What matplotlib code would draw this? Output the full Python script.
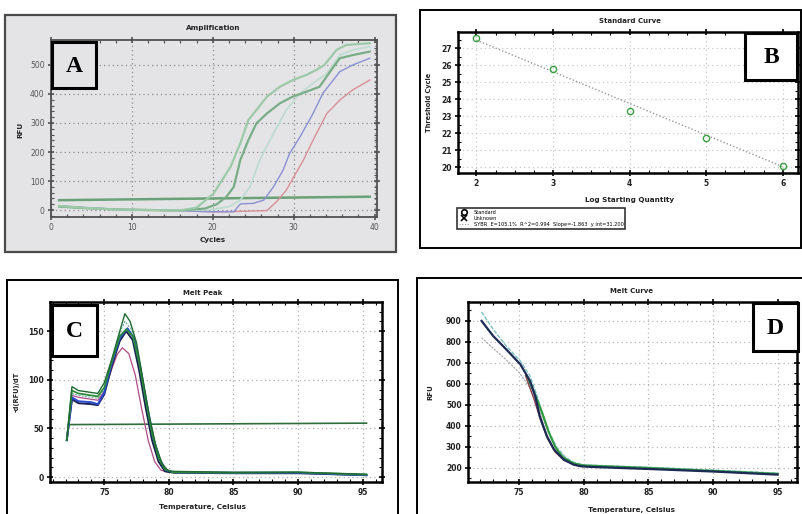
import numpy as np
import matplotlib
matplotlib.use("Agg")
from matplotlib import pyplot as plt
from matplotlib.patches import Rectangle
from matplotlib.lines import Line2D
from matplotlib.ticker import MultipleLocator

W, H = 803, 514

# --- A: amplification curves (cycle, RFU) ---
amp_fast_c = [1, 4, 8, 12, 16, 18, 20.1, 22.2, 23.4, 24.4, 25.4, 26.7, 28.3, 29.9, 31.6, 32.8, 33.8, 35.3, 36.5, 39.4]
amp_fast_r = [14, 8, 2, 0, -1, 8, 57, 149, 230, 310, 345, 391, 425, 448, 466, 483, 500, 552, 569, 575]
amp_mid_c = [1, 4, 8, 12, 16, 19, 20.5, 21.7, 22.6, 23.4, 24.4, 25.4, 26.7, 28.3, 29.9, 31.6, 33.2, 34.5, 35.7, 37.3, 39.4]
amp_mid_r = [12, 7, 2, 0, -1, 5, 20, 46, 80, 172, 241, 299, 333, 368, 391, 408, 425, 477, 523, 534, 546]
amp_pale_c = [1, 4, 8, 12, 16, 20, 22, 23.4, 24.6, 25.8, 27.5, 29.1, 30.8, 32.4, 34.1, 35.7, 37.3, 39.4]
amp_pale_r = [10, 6, 2, 0, -2, 2, 12, 34, 80, 172, 264, 345, 402, 437, 471, 534, 552, 563]
amp_blue_c = [1, 4, 8, 12, 16, 20, 22.6, 23.4, 25, 26.3, 27.5, 28.7, 29.5, 30.8, 32.4, 33.6, 34.9, 35.7, 37.3, 39.4]
amp_blue_r = [15, 9, 3, 0, -3, -6, -6, 21, 23, 34, 80, 138, 195, 253, 333, 402, 448, 477, 500, 523]
amp_red_c = [1, 4, 8, 12, 16, 20, 23, 25, 26.7, 27.9, 29.1, 29.9, 31.2, 32.4, 34.1, 35.7, 37.3, 39.4]
amp_red_r = [13, 8, 2, 0, -3, -6, -5, -3, -2, 29, 69, 109, 172, 241, 333, 379, 414, 448]
amp_threshold_c = [1, 39.4]
amp_threshold_r = [34, 46]

# --- B: standard curve ---
log_qty = [2, 3, 4, 5, 6]
ct_values = [27.6, 25.8, 23.3, 21.7, 20.05]
fit_slope = -1.863
fit_intercept = 31.2
fit_label = "SYBR  E=105.1%  R^2=0.994  Slope={:.3f}  y int={:.3f}".format(fit_slope, fit_intercept)

# --- C: melt peak (temperature, -d(RFU)/dT) ---
peak_dkgreen_t = [72.1, 72.5, 73, 74, 74.5, 75, 75.6, 76.2, 76.6, 77.0, 77.5, 78.0, 78.5, 79.0, 79.5, 80, 85, 90, 95.3]
peak_dkgreen_v = [38, 93, 89, 87, 86, 97, 122, 150, 168, 160, 138, 100, 62, 32, 13, 6, 5, 5, 3]
peak_green_t = [72.1, 72.5, 73, 74, 74.5, 75, 75.6, 76.2, 76.7, 77.2, 77.7, 78.2, 78.7, 79.2, 79.7, 80.3, 85, 90, 95.3]
peak_green_v = [38, 89, 86, 84, 83, 92, 120, 145, 152, 145, 118, 80, 45, 20, 8, 5, 4.5, 5, 2.5]
peak_blue_t = [72.1, 72.5, 73, 74, 74.5, 75, 75.6, 76.2, 76.8, 77.3, 77.8, 78.3, 78.8, 79.3, 79.8, 80.5, 85, 90, 95.3]
peak_blue_v = [38, 82, 78, 77, 75, 87, 118, 143, 153, 143, 112, 75, 40, 18, 7, 5, 4.5, 4.5, 2]
peak_navy_t = [72.1, 72.5, 73, 74, 74.5, 75, 75.6, 76.2, 76.7, 77.2, 77.7, 78.2, 78.7, 79.2, 79.7, 80.4, 85, 90, 95.3]
peak_navy_v = [38, 80, 76, 75, 74, 85, 115, 140, 150, 141, 110, 72, 38, 16, 6, 4.5, 4, 4, 2]
peak_pink_t = [72.5, 73, 74, 74.5, 75, 75.6, 76.0, 76.4, 76.9, 77.4, 77.9, 78.4, 78.9, 79.4, 80]
peak_pink_v = [84, 82, 80, 79, 88, 112, 126, 133, 127, 105, 70, 38, 16, 7, 5]
peak_cyan_t = [72.5, 73, 74, 74.5, 75, 75.6, 76.2, 76.6, 77.1, 77.6, 78.1, 78.6, 79.1, 79.6, 80.2]
peak_cyan_v = [86, 84, 82, 81, 90, 121, 148, 160, 152, 128, 90, 52, 24, 9, 5]
peak_line_t = [72.3, 95.3]
peak_line_v = [54, 55.5]

# --- D: melt curve (temperature, RFU) ---
melt_navy_t = [72.1, 73, 74, 75.1, 75.85, 76.25, 76.6, 77.15, 77.7, 78.45, 79.2, 79.75, 80.5, 85, 90, 95]
melt_navy_v = [900, 828, 765, 693, 614, 542, 447, 352, 288, 240, 216, 208, 205, 195, 183, 168]
melt_cyan_t = [72.1, 73, 74, 75.1, 75.85, 76.3, 76.8, 77.3, 77.9, 78.6, 79.3, 80, 85, 90, 95]
melt_cyan_v = [943, 860, 781, 709, 638, 560, 465, 375, 300, 250, 225, 214, 203, 190, 175]
melt_gray_t = [72.1, 73, 74, 75, 75.8, 76.3, 76.8, 77.4, 78.1, 79, 80]
melt_gray_v = [820, 770, 715, 655, 585, 520, 440, 350, 275, 228, 212]
melt_green_t = [75.6, 76.3, 76.8, 77.3, 77.8, 78.4, 79.2, 80, 85, 90, 95]
melt_green_v = [640, 540, 460, 370, 300, 250, 222, 212, 200, 186, 172]
melt_pink_t = [75.5, 76.2, 76.7, 77.2, 77.8, 78.5, 79.5]
melt_pink_v = [640, 520, 420, 340, 275, 235, 215]

fig = plt.figure(figsize=(W / 100, H / 100), dpi=100)
fig.patch.set_facecolor("white")
plt.rcParams["font.family"] = ["DejaVu Sans"]


def fx(x):
    return x / W


def fy(y):
    return 1 - y / H


def frame(l, t, r, b, fc="white", ec="black", lw=1.5, z=0):
    fig.add_artist(Rectangle((fx(l), fy(b)), fx(r - l), (b - t) / H,
                             transform=fig.transFigure, fc=fc, ec=ec, lw=lw, zorder=z))


def axes_at(l, t, r, b, fc="white"):
    ax = fig.add_axes([fx(l), fy(b), fx(r - l), (b - t) / H])
    ax.set_facecolor(fc)
    return ax


def letter(l, t, r, b, s, fc="white"):
    frame(l, t, r, b, fc=fc, ec="black", lw=2.2, z=5)
    fig.text(fx((l + r) / 2), fy((t + b) / 2 + 1), s, ha="center", va="center",
             family="Liberation Serif", weight="bold", size=17, zorder=6)


def txt(x, y, s, rot=0, size=5.2):
    fig.text(fx(x), fy(y), s, ha="center", va="center", rotation=rot,
             size=size, weight="bold", color="#222222")


def style(ax, spine_c="black", spine_w=1.8, grid_c="#9a9a9a"):
    for sp in ax.spines.values():
        sp.set_color(spine_c)
        sp.set_linewidth(spine_w)
    ax.tick_params(which="major", direction="inout", length=5, width=1.2,
                   labelsize=5.5, colors=spine_c, labelcolor="#222222", pad=2)
    ax.tick_params(which="minor", direction="in", length=2.5, width=0.8,
                   colors=spine_c, top=True, right=True)
    ax.tick_params(top=True, right=True)
    for lab in ax.get_xticklabels() + ax.get_yticklabels():
        lab.set_fontweight("bold")
    ax.grid(True, which="major", color=grid_c, linestyle=(0, (1, 2.5)), linewidth=0.9)
    ax.set_axisbelow(True)


# ---------------- A: Amplification ----------------
gray_bg = "#e4e4e6"
frame(5, 15, 396, 252, fc=gray_bg, ec="#4a4a4a", lw=1.6)
axA = axes_at(51, 40, 377, 217, fc=gray_bg)
axA.plot(amp_threshold_c, amp_threshold_r, color="#6aa178", lw=1.8)
axA.plot(amp_red_c, amp_red_r, color="#d98e9a", lw=1.0)
axA.plot(amp_blue_c, amp_blue_r, color="#8b8fd4", lw=1.0)
axA.plot(amp_pale_c, amp_pale_r, color="#bfdcd0", lw=1.3)
axA.plot(amp_mid_c, amp_mid_r, color="#78ad88", lw=1.6)
axA.plot(amp_fast_c, amp_fast_r, color="#9ccaa8", lw=1.6)
axA.set_xlim(0, 40.3)
axA.set_ylim(-24, 586)
axA.set_xticks([0, 10, 20, 30, 40])
axA.set_yticks([0, 100, 200, 300, 400, 500])
axA.xaxis.set_minor_locator(MultipleLocator(2))
axA.yaxis.set_minor_locator(MultipleLocator(20))
style(axA, spine_c="#505050", spine_w=1.3, grid_c="#8c8c8c")
for lab in axA.get_xticklabels() + axA.get_yticklabels():
    lab.set_fontweight("normal")
    lab.set_color("#555555")
txt(213, 28, "Amplification", size=5.2)
txt(213, 240, "Cycles", size=5.2)
txt(20, 130, "RFU", rot=90, size=5.2)
letter(52, 42, 96, 88, "A", fc=gray_bg)

# ---------------- B: Standard Curve ----------------
frame(420, 10, 801, 248, lw=1.4)
axB = axes_at(458, 32, 798, 173)
xs = np.array([log_qty[0], log_qty[-1]])
axB.plot(xs, fit_slope * xs + fit_intercept, color="#9a9a9a", lw=1.0, linestyle=(0, (1, 1.5)))
axB.plot(log_qty, ct_values, "o", mfc="none", mec="#3aa040", ms=4.5, mew=1.0)
axB.set_xlim(1.76, 6.2)
axB.set_ylim(19.65, 27.95)
axB.set_xticks(log_qty)
axB.set_yticks(range(20, 28))
axB.xaxis.set_minor_locator(MultipleLocator(0.25))
axB.yaxis.set_minor_locator(MultipleLocator(0.5))
style(axB, grid_c="#c8c8c8")
txt(630, 21, "Standard Curve", size=5)
txt(630, 200, "Log Starting Quantity", size=5.2)
txt(429, 102, "Threshold Cycle", rot=90, size=4.8)
letter(745, 33, 797, 80, "B")

handles = [
    Line2D([], [], marker="o", ls="none", mfc="none", mec="black", ms=4, mew=1.2),
    Line2D([], [], marker="x", ls="none", color="black", ms=5, mew=1.2),
    Line2D([], [], color="#9a9a9a", lw=0.8, linestyle=(0, (1, 1.5))),
]
leg = axB.legend(handles, ["Standard", "Unknown", fit_label], loc="upper left",
                 bbox_to_anchor=(fx(457), fy(208)), bbox_transform=fig.transFigure,
                 fontsize=3.6, frameon=True, borderpad=0.3, labelspacing=0.25,
                 handlelength=2.2, handletextpad=0.8, borderaxespad=0)
leg.get_frame().set_edgecolor("black")
leg.get_frame().set_linewidth(1.2)
leg.get_frame().set_boxstyle("square", pad=0)

# ---------------- C: Melt Peak ----------------
frame(7, 280, 398, 530, lw=1.4)
axC = axes_at(50, 302, 382, 482)
axC.plot(peak_line_t, peak_line_v, color="#2f6e3a", lw=1.2)
axC.plot(peak_cyan_t, peak_cyan_v, color="#6fae98", lw=0.8, linestyle=(0, (2, 1)))
axC.plot(peak_pink_t, peak_pink_v, color="#b04a86", lw=0.9)
axC.plot(peak_navy_t, peak_navy_v, color="#1b2150", lw=1.4)
axC.plot(peak_blue_t, peak_blue_v, color="#2a4ad0", lw=1.4)
axC.plot(peak_green_t, peak_green_v, color="#2c8c3c", lw=1.3)
axC.plot(peak_dkgreen_t, peak_dkgreen_v, color="#1f6a30", lw=1.0)
axC.set_xlim(70.8, 96.5)
axC.set_ylim(-5, 180)
axC.set_xticks([75, 80, 85, 90, 95])
axC.set_yticks([0, 50, 100, 150])
axC.xaxis.set_minor_locator(MultipleLocator(1))
axC.yaxis.set_minor_locator(MultipleLocator(10))
style(axC, grid_c="#b0b0b0")
txt(203, 293, "Melt Peak", size=5)
txt(203, 507, "Temperature, Celsius", size=5.2)
txt(17, 392, "-d(RFU)/dT", rot=90, size=4.8)
letter(52, 305, 97, 356, "C")

# ---------------- D: Melt Curve ----------------
frame(417, 278, 806, 530, lw=1.4)
axD = axes_at(468, 302, 797, 482)
axD.plot(melt_gray_t, melt_gray_v, color="#a8a8a8", lw=0.8, linestyle=(0, (2, 1)))
axD.plot(melt_cyan_t, melt_cyan_v, color="#7ec2c4", lw=1.0, linestyle=(0, (3, 1)))
axD.plot(melt_pink_t, melt_pink_v, color="#8a3a4a", lw=1.0)
axD.plot(melt_green_t, melt_green_v, color="#2f9a3e", lw=1.5)
axD.plot(melt_navy_t, melt_navy_v, color="#1c2a55", lw=1.6)
axD.set_xlim(71.05, 96.5)
axD.set_ylim(133, 990)
axD.set_xticks([75, 80, 85, 90, 95])
axD.set_yticks(range(200, 1000, 100))
axD.xaxis.set_minor_locator(MultipleLocator(1))
axD.yaxis.set_minor_locator(MultipleLocator(50))
style(axD, grid_c="#b8b8b8")
txt(632, 291, "Melt Curve", size=5)
txt(632, 510, "Temperature, Celsius", size=5.2)
txt(430, 392, "RFU", rot=90, size=5)
letter(753, 303, 798, 351, "D")

fig.savefig("out.png", dpi=100)
